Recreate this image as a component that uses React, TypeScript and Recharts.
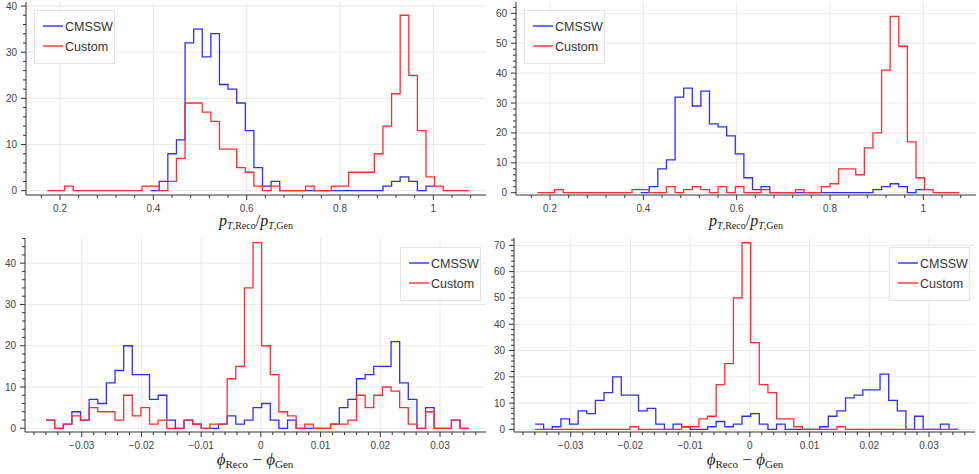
import React from 'react';
import { LineChart, Line, XAxis, YAxis, CartesianGrid } from 'recharts';

// Histogram binning (49 equal bins over the filled range)
const BIN_COUNT = 49;
const PT_BIN_RANGE: [number, number] = [0.1729, 1.0764];
const PHI_BIN_RANGE: [number, number] = [-0.03598, 0.0348];

// pT ratio, CMSSW only fills bins 12..44
const PT_CMSSW_FIRST_BIN = 12;
const PT_CMSSW = [
  0, 2, 8, 11, 32, 35, 29, 34, 23, 22, 19, 13, 5, 1, 2,
  0, 0, 0, 0, 0, 0, 0, 0, 0, 0, 0, 0,
  1, 2, 3, 2, 0, 1,
];
const PT_CUSTOM_LEFT = [
  0, 0, 1, 0, 0, 0, 0, 0, 0, 0,
  0, 1, 1, 0, 2, 7, 19, 19, 17, 15,
  9, 9, 5, 4, 1, 0, 1, 0, 0, 0,
  1, 0, 0, 1, 1, 4, 4, 4, 8, 14,
  21, 38, 25, 13, 3, 1, 0, 0, 0,
];
const PT_CUSTOM_RIGHT = [
  0, 0, 1, 0, 0, 0, 0, 0, 0, 0,
  0, 1, 1, 0, 0, 2, 0, 1, 2, 1,
  0, 2, 0, 2, 0, 0, 1, 0, 0, 0,
  1, 0, 0, 2, 3, 8, 8, 6, 15, 20,
  41, 59, 49, 17, 5, 1, 0, 0, 0,
];

// phi difference
const PHI_CMSSW = [
  2, 0, 1, 4, 2, 7, 6, 11, 14, 20,
  13, 13, 7, 8, 2, 0, 2, 1, 0, 0,
  1, 3, 1, 2, 5, 6, 2, 0, 2, 0,
  0, 0, 0, 1, 5, 7, 12, 13, 15, 15,
  21, 11, 7, 0, 5, 0, 0, 2, 0,
];
const PHI_CUSTOM_LEFT = [
  2, 0, 1, 3, 2, 5, 4, 4, 2, 8,
  3, 5, 1, 2, 0, 0, 2, 1, 0, 1,
  1, 12, 15, 34, 45, 20, 13, 4, 3, 0,
  1, 0, 0, 1, 1, 2, 8, 5, 8, 10,
  9, 5, 1, 0, 4, 0, 0, 2, 0,
];
const PHI_CUSTOM_RIGHT = [
  0, 0, 0, 0, 0, 0, 0, 0, 0, 0,
  0, 1, 0, 0, 0, 0, 0, 1, 1, 4,
  5, 17, 25, 50, 71, 33, 17, 14, 4, 4,
  1, 0, 0, 0, 0, 1, 0, 0, 0, 0,
  0, 0, 0, 0, 0, 0, 0, 0, 0,
];

// tick labels
const PT_TICKS = [0.2, 0.4, 0.6, 0.8, 1];
const PHI_TICKS = [-0.03, -0.02, -0.01, 0, 0.01, 0.02, 0.03];
const COUNT_TICKS_40 = [0, 10, 20, 30, 40];
const COUNT_TICKS_60 = [0, 10, 20, 30, 40, 50, 60];
const COUNT_TICKS_70 = [0, 10, 20, 30, 40, 50, 60, 70];
const SERIES_NAMES = ['CMSSW', 'Custom'];

const BLUE = '#2e2eff';
const RED = '#ff2e2e';
const AXIS = '#333';
const SANS = '"Liberation Sans", Arial, sans-serif';
const SERIF = '"Liberation Serif", "DejaVu Serif", serif';

function binSteps(counts: number[], range: [number, number], firstBin = 0) {
  const w = (range[1] - range[0]) / BIN_COUNT;
  const pts = counts.map((c, i) => ({ x: range[0] + (firstBin + i) * w, y: c }));
  pts.push({ x: range[0] + (firstBin + counts.length) * w, y: counts[counts.length - 1] });
  return pts;
}

function stepTicks(lo: number, hi: number, step: number) {
  const out: number[] = [];
  const n = Math.round((hi - lo) / step);
  for (let i = 0; i <= n; i++) out.push(+(lo + i * step).toFixed(6));
  return out;
}

const isMajor = (majors: number[], v: number) => majors.some((m) => Math.abs(m - v) < 1e-9);

const fmtPt = (v: number) => (v === 1 ? '1' : v.toFixed(1));
const fmtPhi = (v: number) => (Math.abs(v) < 1e-9 ? '0' : (v < 0 ? '\u2212' : '') + Math.abs(v).toFixed(2));

const makeXTick = (majors: number[], fmt: (v: number) => string) => (props: any) => {
  const { x, y, payload } = props;
  const major = isMajor(majors, payload.value);
  return (
    <g>
      <line x1={x} x2={x} y1={y} y2={y + (major ? 5 : 3)} stroke={AXIS} />
      {major && (
        <text x={x} y={y + 10} dy="0.71em" textAnchor="middle" fontSize={10} fill="#444" fontFamily={SANS}>
          {fmt(payload.value)}
        </text>
      )}
    </g>
  );
};

const makeYTick = (majors: number[]) => (props: any) => {
  const { x, y, payload } = props;
  const major = isMajor(majors, payload.value);
  return (
    <g>
      <line x1={x - (major ? 5 : 3)} x2={x} y1={y} y2={y} stroke={AXIS} />
      {major && (
        <text x={x - 9} y={y} dy="0.355em" textAnchor="end" fontSize={10} fill="#444" fontFamily={SANS}>
          {payload.value}
        </text>
      )}
    </g>
  );
};

// legend drawn as svg so it sits in the same coordinate frame as the page
function LegendBox({ x, y }: { x: number; y: number }) {
  const colors = [BLUE, RED];
  return (
    <g>
      <rect x={x + 0.5} y={y + 0.5} width={80} height={53} fill="rgba(255,255,255,0.9)" stroke="#e2e2e2" />
      {SERIES_NAMES.map((name, i) => (
        <g key={name}>
          <line x1={x + 9} x2={x + 29} y1={y + 16 + i * 20} y2={y + 16 + i * 20} stroke={colors[i]} strokeWidth={1.4} />
          <text x={x + 31} y={y + 16 + i * 20} dy="0.36em" fontFamily={SANS} fontSize={12.5} fill="#333">
            {name}
          </text>
        </g>
      ))}
    </g>
  );
}

interface PanelProps {
  left: number;
  top: number;
  width: number;
  height: number;
  plot: { left: number; top: number; right: number; bottom: number };
  xDomain: [number, number];
  yDomain: [number, number];
  xTicks: number[];
  xMajor: number[];
  yTicks: number[];
  yMajor: number[];
  fmtX: (v: number) => string;
  blue: { x: number; y: number }[];
  red: { x: number; y: number }[];
}

function HistPanel(p: PanelProps) {
  return (
    <div style={{ position: 'absolute', left: p.left, top: p.top, width: p.width, height: p.height }}>
      <LineChart
        width={p.width}
        height={p.height}
        margin={{ top: p.plot.top, right: p.width - p.plot.right, left: 0, bottom: 0 }}
      >
        <CartesianGrid stroke="#e9e9e9" verticalValues={p.xMajor} horizontalValues={p.yMajor} />
        <XAxis
          type="number"
          dataKey="x"
          domain={p.xDomain}
          allowDataOverflow
          ticks={p.xTicks}
          interval={0}
          height={p.height - p.plot.bottom}
          tickSize={0}
          tickMargin={0}
          tickLine={false}
          axisLine={{ stroke: AXIS }}
          tick={makeXTick(p.xMajor, p.fmtX)}
        />
        <YAxis
          type="number"
          dataKey="y"
          domain={p.yDomain}
          allowDataOverflow
          ticks={p.yTicks}
          interval={0}
          width={p.plot.left}
          tickSize={0}
          tickMargin={0}
          tickLine={false}
          axisLine={{ stroke: AXIS }}
          tick={makeYTick(p.yMajor)}
        />
        <Line data={p.blue} dataKey="y" name={SERIES_NAMES[0]} type="stepAfter" stroke={BLUE} strokeWidth={1.3} dot={false} isAnimationActive={false} />
        <Line data={p.red} dataKey="y" name={SERIES_NAMES[1]} type="stepAfter" stroke={RED} strokeWidth={1.3} dot={false} isAnimationActive={false} />
      </LineChart>
    </div>
  );
}

function PtLabel({ x, y }: { x: number; y: number }) {
  return (
    <text x={x} y={y} textAnchor="middle" fontFamily={SERIF} fontSize={16} fill="#222">
      <tspan fontStyle="italic">p</tspan>
      <tspan fontSize={10} fontStyle="italic" dy={3}>T</tspan>
      <tspan fontSize={10}>,Reco</tspan>
      <tspan dy={-3}>/</tspan>
      <tspan fontStyle="italic">p</tspan>
      <tspan fontSize={10} fontStyle="italic" dy={3}>T</tspan>
      <tspan fontSize={10}>,Gen</tspan>
    </text>
  );
}

function PhiLabel({ x, y }: { x: number; y: number }) {
  return (
    <text x={x} y={y} textAnchor="middle" fontFamily={SERIF} fontSize={17} fill="#222">
      <tspan fontStyle="italic">{'\u03D5'}</tspan>
      <tspan fontSize={11} dy={3}>Reco</tspan>
      <tspan dy={-3}>{' \u2212 '}</tspan>
      <tspan fontStyle="italic">{'\u03D5'}</tspan>
      <tspan fontSize={11} dy={3}>Gen</tspan>
    </text>
  );
}

export default function App() {
  const ptXTicks = stepTicks(0.16, 1.08, 0.04);
  const phiXTicks = stepTicks(-0.038, 0.036, 0.002);
  const ptBlue = binSteps(PT_CMSSW, PT_BIN_RANGE, PT_CMSSW_FIRST_BIN);
  const phiBlue = binSteps(PHI_CMSSW, PHI_BIN_RANGE);

  return (
    <div style={{ position: 'absolute', left: 0, top: 0, width: 979, height: 474, background: '#fff', overflow: 'hidden' }}>
      <HistPanel
        left={0}
        top={0}
        width={490}
        height={235}
        plot={{ left: 26, top: 2, right: 486, bottom: 195 }}
        xDomain={[0.1271, 1.1128]}
        yDomain={[-0.93, 40.87]}
        xTicks={ptXTicks}
        xMajor={PT_TICKS}
        yTicks={stepTicks(0, 40, 2)}
        yMajor={COUNT_TICKS_40}
        fmtX={fmtPt}
        blue={ptBlue}
        red={binSteps(PT_CUSTOM_LEFT, PT_BIN_RANGE)}
      />
      <HistPanel
        left={490}
        top={0}
        width={489}
        height={235}
        plot={{ left: 26, top: 2, right: 486, bottom: 195 }}
        xDomain={[0.1271, 1.1128]}
        yDomain={[-0.77, 63.8]}
        xTicks={ptXTicks}
        xMajor={PT_TICKS}
        yTicks={stepTicks(0, 62, 2)}
        yMajor={COUNT_TICKS_60}
        fmtX={fmtPt}
        blue={ptBlue}
        red={binSteps(PT_CUSTOM_RIGHT, PT_BIN_RANGE)}
      />
      <HistPanel
        left={0}
        top={235}
        width={490}
        height={239}
        plot={{ left: 25, top: 3, right: 486, bottom: 197 }}
        xDomain={[-0.0395, 0.0377]}
        yDomain={[-0.9, 46.1]}
        xTicks={phiXTicks}
        xMajor={PHI_TICKS}
        yTicks={stepTicks(0, 46, 2)}
        yMajor={COUNT_TICKS_40}
        fmtX={fmtPhi}
        blue={phiBlue}
        red={binSteps(PHI_CUSTOM_LEFT, PHI_BIN_RANGE)}
      />
      <HistPanel
        left={490}
        top={235}
        width={489}
        height={239}
        plot={{ left: 24, top: 3, right: 485, bottom: 197 }}
        xDomain={[-0.0395, 0.0377]}
        yDomain={[-1.0, 72.8]}
        xTicks={phiXTicks}
        xMajor={PHI_TICKS}
        yTicks={stepTicks(0, 72, 2)}
        yMajor={COUNT_TICKS_70}
        fmtX={fmtPhi}
        blue={phiBlue}
        red={binSteps(PHI_CUSTOM_RIGHT, PHI_BIN_RANGE)}
      />
      <svg width={979} height={474} style={{ position: 'absolute', left: 0, top: 0, pointerEvents: 'none' }}>
        <LegendBox x={34} y={10} />
        <LegendBox x={524} y={10} />
        <LegendBox x={400} y={247} />
        <LegendBox x={889} y={247} />
        <PtLabel x={256} y={226} />
        <PtLabel x={746} y={226} />
        <PhiLabel x={255} y={465} />
        <PhiLabel x={745} y={465} />
      </svg>
    </div>
  );
}
